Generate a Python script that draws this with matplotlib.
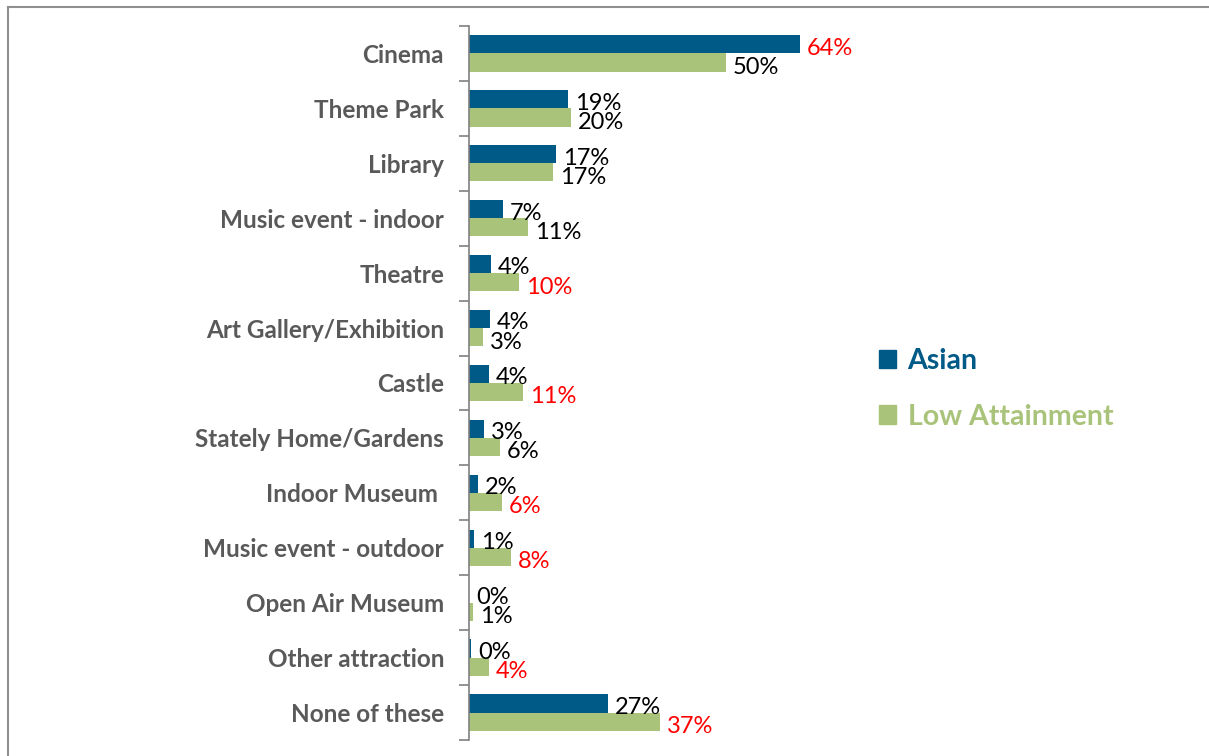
import numpy as np
import matplotlib.pyplot as plt
from matplotlib.lines import Line2D

categories = ['Cinema', 'Theme Park', 'Library', 'Music event - indoor', 'Theatre',
              'Art Gallery/Exhibition', 'Castle', 'Stately Home/Gardens', 'Indoor Museum ',
              'Music event - outdoor', 'Open Air Museum', 'Other attraction', 'None of these']
asian = [64.0, 19.2, 16.8, 6.5, 4.2, 4.1, 3.8, 2.9, 1.8, 1.0, 0.0, 0.4, 26.8]
low_att = [49.6, 19.7, 16.3, 11.4, 9.7, 2.7, 10.4, 6.0, 6.4, 8.1, 0.8, 3.9, 36.9]
asian_lbl = ['64%', '19%', '17%', '7%', '4%', '4%', '4%', '3%', '2%', '1%', '0%', '0%', '27%']
low_lbl = ['50%', '20%', '17%', '11%', '10%', '3%', '11%', '6%', '6%', '8%', '1%', '4%', '37%']
asian_red = [True] + [False] * 12
low_red = [False, False, False, False, True, False, True, False, True, True, False, True, True]

c_asian = '#005A87'
c_low = '#A9C47A'
grey = '#595959'

plt.rcParams['font.family'] = ['Lato', 'DejaVu Sans']

fig = plt.figure(figsize=(12.09, 7.56), dpi=100)
ax = fig.add_axes([0.388, 0.0212, 0.321, 0.9444])

n = len(categories)
y = np.arange(n)
h = 0.33
ax.barh(y - h / 2, asian, height=h, color=c_asian)
ax.barh(y + h / 2, low_att, height=h, color=c_low)

for i in range(n):
    ax.text(asian[i] + 1.3, y[i] - h / 2 + 0.07, asian_lbl[i], va='center', ha='left',
            fontsize=17, color='red' if asian_red[i] else 'black')
    ax.text(low_att[i] + 1.3, y[i] + h / 2 + 0.09, low_lbl[i], va='center', ha='left',
            fontsize=17, color='red' if low_red[i] else 'black')

ax.set_xlim(0, 75)
ax.set_ylim(n - 0.5, -0.5)
ax.set_yticks(y)
ax.set_yticklabels(categories, fontsize=17.5, fontweight='bold', color=grey)
ax.set_yticks(np.arange(-0.5, n, 1), minor=True)
ax.tick_params(axis='y', which='major', length=0, pad=18)
ax.tick_params(axis='y', which='minor', length=7, color='#808080', width=1.2)
ax.set_xticks([])
for s in ['top', 'right', 'bottom']:
    ax.spines[s].set_visible(False)
ax.spines['left'].set_color('#808080')
ax.spines['left'].set_linewidth(1.2)

handles = [plt.Rectangle((0, 0), 1, 1, color=c_asian),
           plt.Rectangle((0, 0), 1, 1, color=c_low)]
leg = fig.legend(handles, ['Asian', 'Low Attainment'], loc='center left',
                 bbox_to_anchor=(0.706, 0.486), frameon=False,
                 prop={'size': 20.5, 'weight': 'bold'}, handlelength=0.6, handleheight=0.6,
                 labelspacing=1.05, handletextpad=0.4)
for t, c in zip(leg.get_texts(), [c_asian, c_low]):
    t.set_color(c)

# outer frame
fig.add_artist(Line2D([8 / 1209, 8 / 1209], [0, 1 - 7 / 756], color='#909090', lw=1.5,
                      transform=fig.transFigure))
fig.add_artist(Line2D([8 / 1209, 1], [1 - 7 / 756, 1 - 7 / 756], color='#909090', lw=1.5,
                      transform=fig.transFigure))

fig.savefig('out.png', dpi=100)
